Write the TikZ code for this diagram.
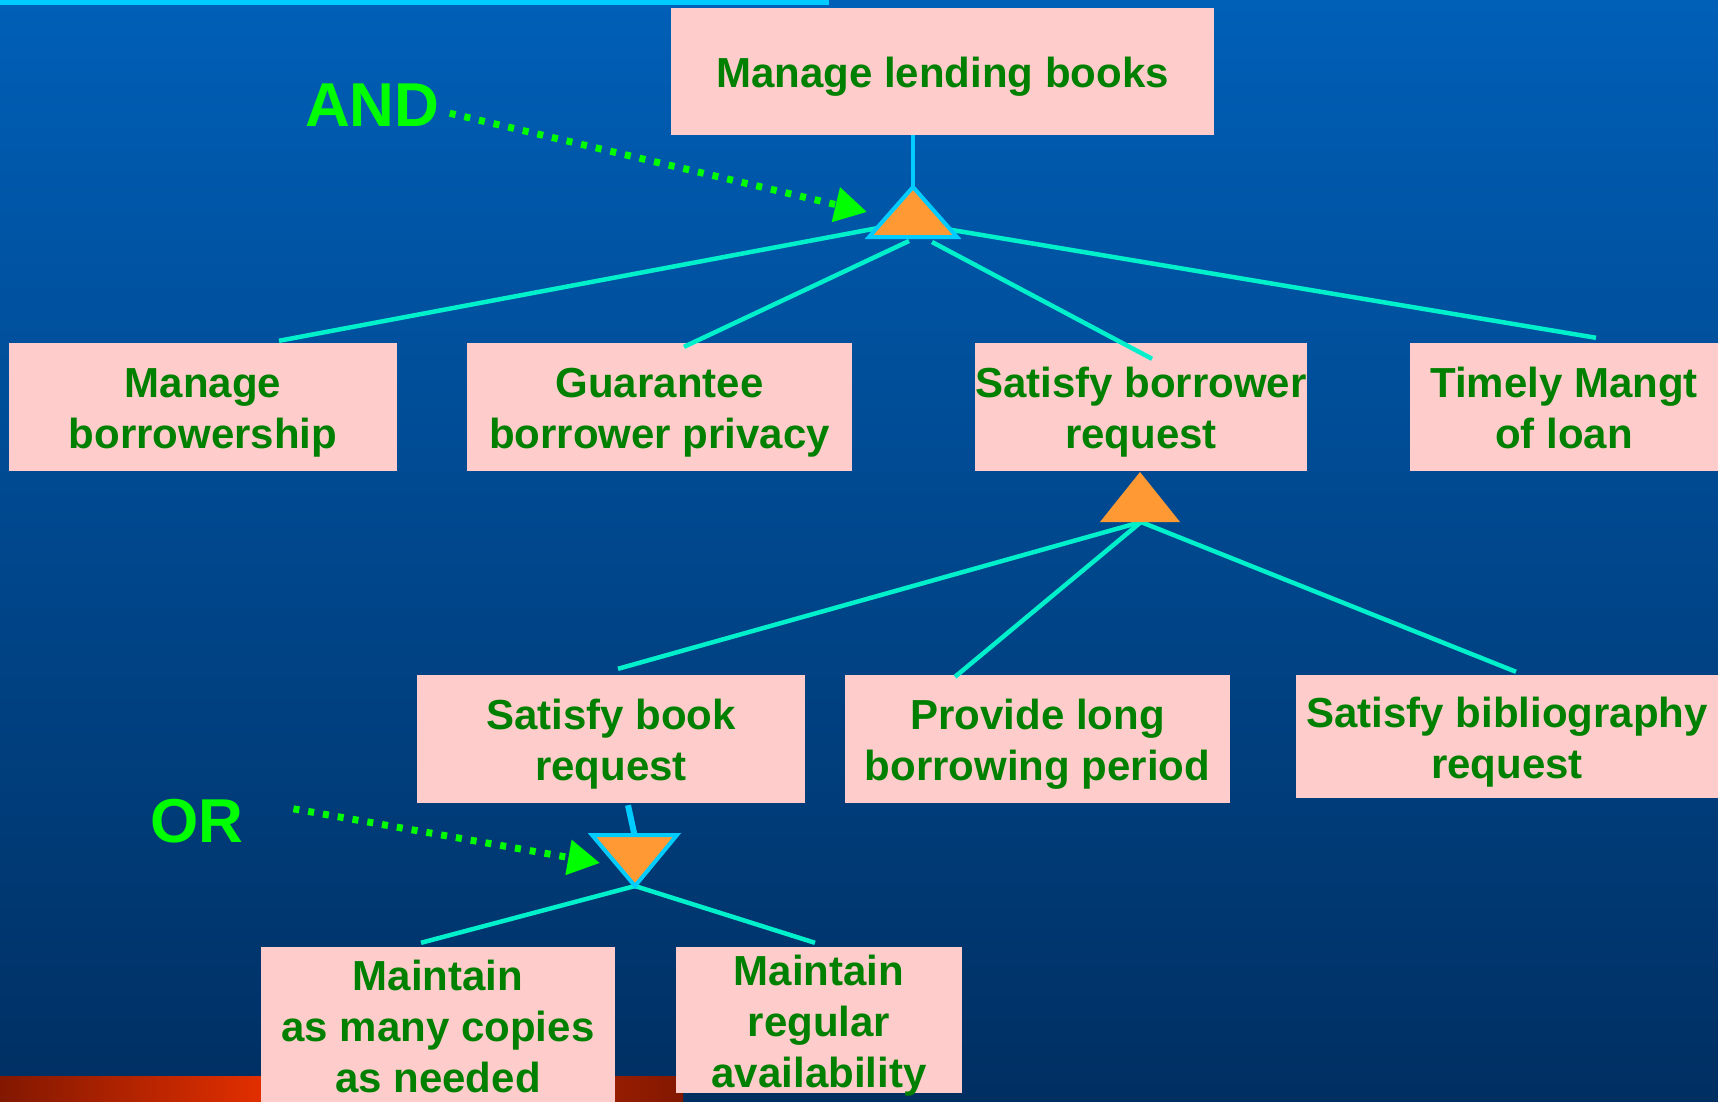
\documentclass[tikz,border=0pt]{standalone}
\usepackage{fontspec}
\setmainfont{Liberation Sans}
\usetikzlibrary{arrows.meta}
\definecolor{bgtop}{RGB}{0,95,183}
\definecolor{bgbot}{RGB}{0,47,98}
\definecolor{boxpink}{RGB}{255,204,204}
\definecolor{goalgreen}{RGB}{0,128,0}
\definecolor{linkaqua}{RGB}{0,240,204}
\definecolor{stemcyan}{RGB}{0,204,255}
\definecolor{gateorange}{RGB}{255,153,51}
\definecolor{notegreen}{RGB}{0,255,0}
\definecolor{bardark}{RGB}{130,24,0}
\definecolor{barlight}{RGB}{240,50,0}
\newcommand{\goalfont}{\bfseries\fontsize{42}{51}\selectfont}
\newcommand{\notefont}{\bfseries\fontsize{62}{62}\selectfont}

\begin{document}
\begin{tikzpicture}[x=1pt,y=-1pt,
goal/.style={fill=boxpink,text=goalgreen,font=\goalfont,align=center,inner sep=0pt,minimum height=128pt,text height=83pt,text depth=0pt},
link/.style={draw=linkaqua,line width=4.5pt},
stem/.style={draw=stemcyan,line width=4pt},
note/.style={text=notegreen,font=\notefont,inner sep=0pt,anchor=base west},
pointer/.style={draw=notegreen,line width=7pt,dash pattern=on 6pt off 9pt,-{Triangle[length=32pt,width=34pt]}}]
\useasboundingbox (0,0) rectangle (1718,1101);
\shade[top color=bgtop,bottom color=bgbot] (0,0) rectangle (1718,1101);
\fill[stemcyan] (0,0) rectangle (829,5);
\shade[left color=bardark,right color=barlight] (0,1076) rectangle (300,1101);
\shade[left color=barlight,right color=bardark] (300,1076) rectangle (683,1101);

\node[goal,minimum width=543pt,minimum height=127pt,text height=32pt] (mlb) at (942.5,71.5) {Manage lending books};
\node[goal,minimum width=388pt] (mb) at (203,407) {Manage\\borrowership};
\node[goal,minimum width=385pt] (gbp) at (659.5,407) {Guarantee\\borrower privacy};
\node[goal,minimum width=326pt] (sbr) at (1141,407) {Satisfy borrower\\request};
\node[goal,minimum width=308pt] (tml) at (1564,407) {Timely Mangt\\of loan};
\node[goal,minimum width=388pt] (sbk) at (611,739) {Satisfy book\\request};
\node[goal,minimum width=385pt] (plb) at (1037.5,739) {Provide long\\borrowing period};
\node[goal,minimum width=422pt,minimum height=123pt] (sbb) at (1507,736.5) {Satisfy bibliography\\request};
\node[goal,minimum width=354pt,minimum height=156pt,text height=134pt] (mac) at (438,1025) {Maintain\\as many copies\\as needed};
\node[goal,minimum width=286pt,minimum height=146pt,text height=134pt] (mra) at (819,1020) {Maintain\\regular\\availability};

\coordinate (andg) at (913,187);
\coordinate (andL) at (878,228);
\coordinate (andB1) at (909,241);
\coordinate (andB2) at (932,242);
\coordinate (andR) at (946,229);
\coordinate (sbrg) at (1141,522);
\coordinate (orT) at (634.5,835);
\coordinate (org) at (635,886);
\coordinate (andtip) at (867,212);
\coordinate (ortip) at (600,863);

\draw[link] (andL) -- ([xshift=76pt,yshift=2pt]mb.north);
\draw[link] (andB1) -- ([xshift=24.5pt,yshift=-4pt]gbp.north);
\draw[link] (andB2) -- ([xshift=11pt,yshift=-16pt]sbr.north);
\draw[link] (andR) -- ([xshift=32pt,yshift=5pt]tml.north);
\draw[link] (sbrg) -- ([xshift=7pt,yshift=6pt]sbk.north);
\draw[link] (sbrg) -- ([xshift=-82.5pt,yshift=-2pt]plb.north);
\draw[link] (sbrg) -- ([xshift=9pt,yshift=3pt]sbb.north);
\draw[link] (org) -- ([xshift=-17pt,yshift=4pt]mac.north);
\draw[link] (org) -- ([xshift=-4pt,yshift=4pt]mra.north);

\draw[stem] (mlb.south -| andg) -- (andg);
\draw[stem,line width=6pt] ([xshift=17pt,yshift=-2pt]sbk.south) -- (orT);
\filldraw[fill=gateorange,draw=stemcyan,line width=4pt] (andg) -- (869,237) -- (957,237) -- cycle;
\fill[gateorange] (1140,472) -- (1100,522) -- (1180,522) -- cycle;
\filldraw[fill=gateorange,draw=stemcyan,line width=4pt] (592,835) -- (677,835) -- (org) -- cycle;

\node[note] (andlbl) at (305,126) {AND};
\node[note] (orlbl) at (150,842) {OR};
\draw[pointer] ([xshift=10pt,yshift=13pt]andlbl.south east) -- (andtip);
\draw[pointer] ([xshift=50pt,yshift=34pt]orlbl.south east) -- (ortip);
\end{tikzpicture}
\end{document}
